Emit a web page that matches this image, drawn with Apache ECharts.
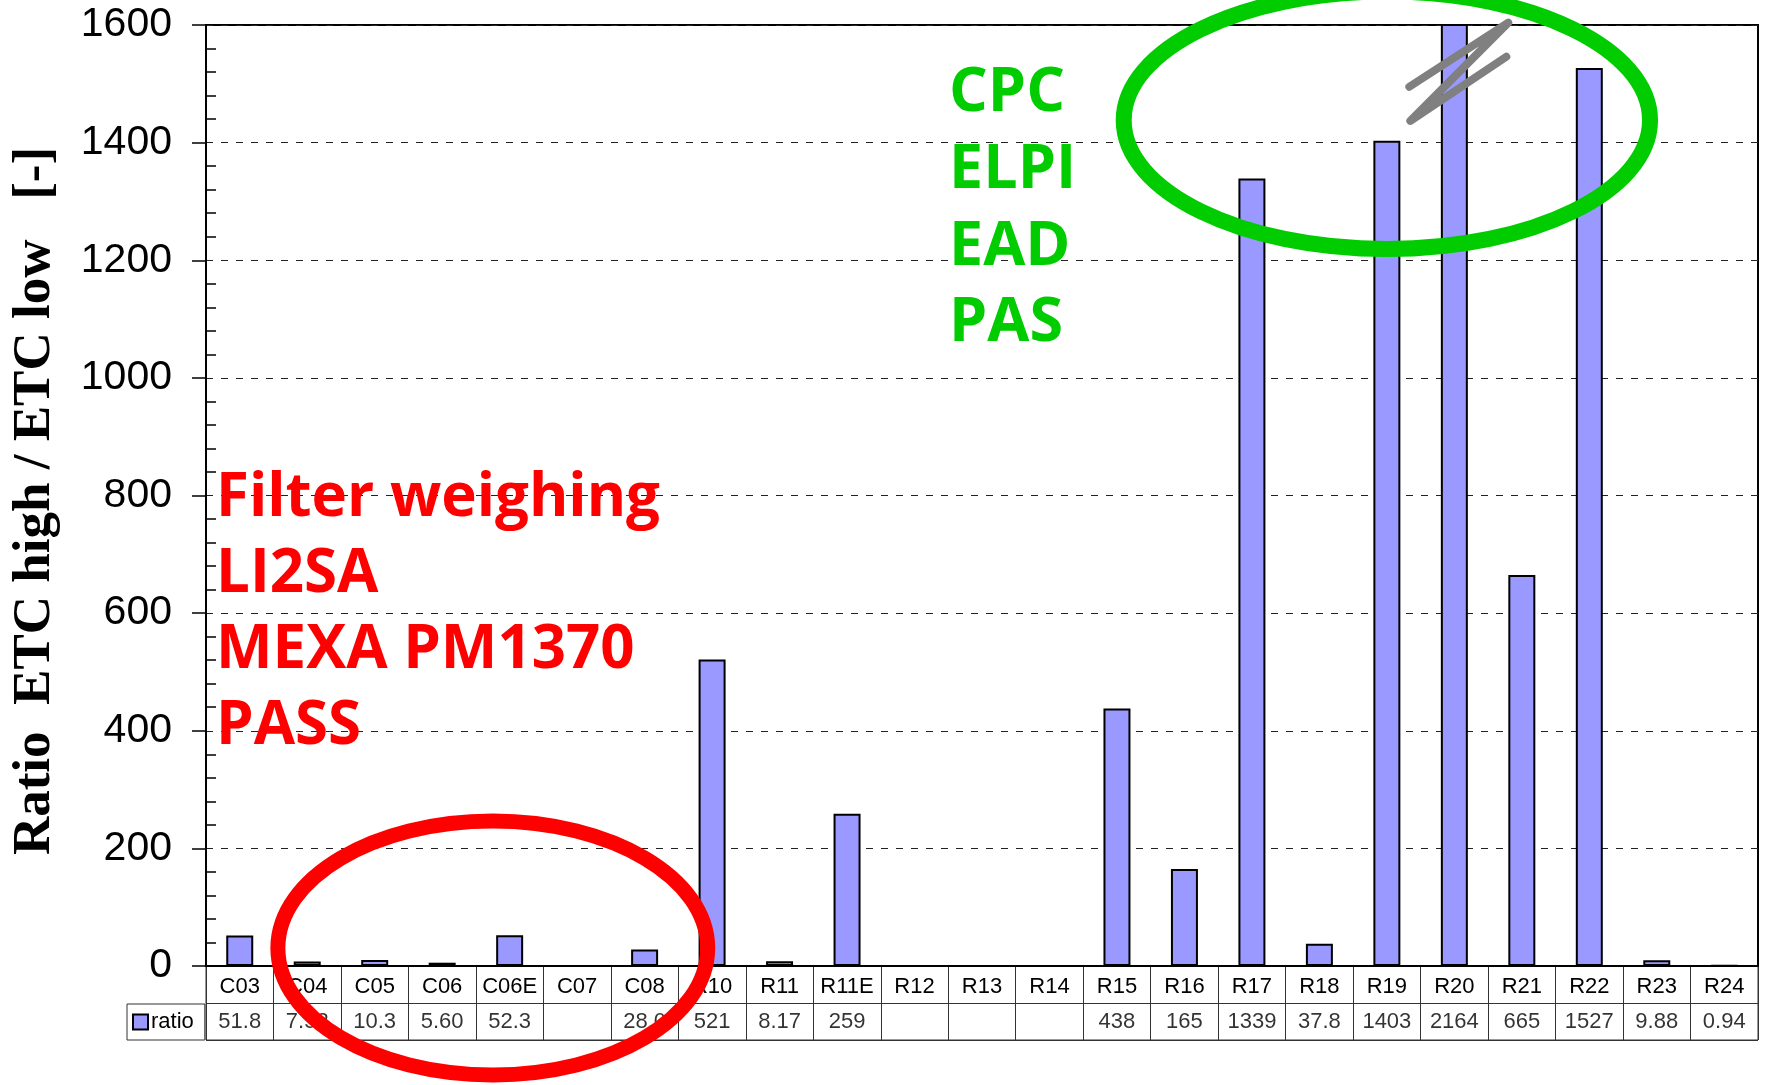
<!DOCTYPE html>
<html>
<head>
<meta charset="utf-8">
<script src="https://cdn.jsdelivr.net/npm/echarts@6/dist/echarts.min.js"></script>
<style>
  html, body { margin: 0; padding: 0; background: #ffffff; }
  #chart { width: 1766px; height: 1085px; }
</style>
</head>
<body>
<div id="chart"></div>
<script>
// values (blank cells -> null)
const categories = ["C03", "C04", "C05", "C06", "C06E", "C07", "C08", "R10", "R11", "R11E", "R12", "R13",
  "R14", "R15", "R16", "R17", "R18", "R19", "R20", "R21", "R22", "R23", "R24"];
const ratio = [51.8, 7.52, 10.3, 5.60, 52.3, null, 28.0, 521, 8.17, 259, null, null,
  null, 438, 165, 1339, 37.8, 1403, 2164, 665, 1527, 9.88, 0.94];
const tableRows = ["ratio", "name"];
const yMin = 0;
const yMax = 1600;
const yStep = 200;
const yTitle = "Ratio  ETC high / ETC low   [-]";
const redNotes = ["Filter weighing", "LI2SA", "MEXA PM1370", "PASS"];
const greenNotes = ["CPC", "ELPI", "EAD", "PAS"];

const SANS = '"Liberation Sans", Arial, sans-serif';
const NOTE_FONT = '"Open Sans", "Noto Sans", sans-serif';

function fmt(v) {
  if (v == null) return "";
  if (v >= 100) return String(Math.round(v));
  if (v < 1) return v.toFixed(2);
  return v.toPrecision(3);
}

const chart = echarts.init(document.getElementById("chart"));

chart.setOption({
  animation: false,
  backgroundColor: "#ffffff",
  legend: {
    left: 127,
    top: 1004,
    orient: "horizontal",
    padding: [7, 11, 7, 5],
    borderColor: "#333",
    borderWidth: 1,
    itemWidth: 15,
    itemHeight: 15,
    icon: "rect",
    textStyle: { color: "#000", fontSize: 22, fontFamily: SANS, padding: [0, 0, 0, -2] },
    selectedMode: false,
    data: ["ratio"],
  },
  grid: [
    { left: 206, right: 8, top: 25, bottom: 119, show: true, borderColor: "#000", borderWidth: 2 },
    { left: 206, right: 8, top: 966, bottom: 45, show: true, borderColor: "#333", borderWidth: 1 },
  ],
  xAxis: [
    {
      type: "category",
      data: categories,
      boundaryGap: true,
      axisLine: { lineStyle: { color: "#000", width: 2 } },
      axisTick: { show: false },
      axisLabel: { interval: 0, margin: 10, color: "#000", fontSize: 22, fontFamily: SANS },
      splitLine: { show: false },
    },
    {
      type: "category",
      gridIndex: 1,
      data: categories,
      boundaryGap: true,
      axisLine: { show: false },
      axisTick: { show: false },
      axisLabel: { show: false },
      splitLine: { show: true, interval: 0, lineStyle: { color: "#333", width: 1 } },
    },
  ],
  yAxis: [
    {
      type: "value",
      min: yMin,
      max: yMax,
      interval: yStep,
      axisLine: { show: true, lineStyle: { color: "#000", width: 2 } },
      axisTick: { show: true, inside: false, length: 14, lineStyle: { color: "#000", width: 1.5 } },
      minorTick: { show: true, splitNumber: 5, length: -10, lineStyle: { color: "#000", width: 1.5 } },
      axisLabel: { margin: 34, color: "#000", fontSize: 41, fontFamily: SANS, formatter: (v) => String(v) },
      splitLine: { show: true, lineStyle: { color: "#222", width: 1, type: [7, 8] } },
    },
    {
      type: "category",
      gridIndex: 1,
      data: tableRows,
      axisLine: { show: false },
      axisTick: { show: false },
      axisLabel: { show: false },
      splitLine: { show: true, interval: 0, lineStyle: { color: "#333", width: 1 } },
    },
  ],
  series: [
    {
      name: "ratio",
      type: "bar",
      data: ratio,
      barWidth: "40%",
      clip: true,
      itemStyle: { color: "#9999ff", borderColor: "#000", borderWidth: 2 },
    },
    {
      name: "table",
      type: "scatter",
      xAxisIndex: 1,
      yAxisIndex: 1,
      silent: true,
      symbol: "rect",
      symbolSize: 1,
      itemStyle: { color: "transparent" },
      data: ratio.map((v, i) => [i, "ratio", v]),
      label: {
        show: true,
        position: "inside",
        color: "#000",
        fontSize: 22,
        fontFamily: SANS,
        formatter: (p) => fmt(p.value[2]),
      },
    },
  ],
});

// annotations, anchored through the chart's own scales
// (category positions are rounded by convertToPixel, so fractions are added per band)
const band = chart.convertToPixel({ gridIndex: 0 }, [1, 0])[0] - chart.convertToPixel({ gridIndex: 0 }, [0, 0])[0];
function px(x, y) {
  const i = Math.floor(x);
  const p = chart.convertToPixel({ gridIndex: 0 }, [i, y]);
  return [p[0] + (x - i) * band, p[1]];
}

function ellipse(cx, cy, ex, ey, color, width) {
  const c = px(cx, cy);
  const e = px(cx + ex, cy + ey);
  return {
    type: "ellipse",
    z: 100,
    silent: true,
    shape: { cx: c[0], cy: c[1], rx: Math.abs(e[0] - c[0]), ry: Math.abs(c[1] - e[1]) },
    style: { fill: null, stroke: color, lineWidth: width },
  };
}

const breakPts = [[18 - 0.667, 1495], [18 + 0.8, 1604], [18 - 0.652, 1437], [18 + 0.77, 1546]].map((p) => px(p[0], p[1]));

const graphics = [
  {
    type: "text",
    x: 35,
    y: 501,
    rotation: Math.PI / 2,
    silent: true,
    style: {
      text: yTitle,
      fill: "#000",
      fontSize: 53,
      fontWeight: "bold",
      fontFamily: '"Liberation Serif", "Times New Roman", serif',
      align: "center",
      verticalAlign: "middle",
    },
  },
  {
    type: "polyline",
    z: 101,
    silent: true,
    shape: { points: breakPts },
    style: { stroke: "#808080", lineWidth: 8, fill: null, lineCap: "round", lineJoin: "round" },
  },
  ellipse(17, 1438, 3.9, 219, "#00cc00", 16),
  ellipse(3.75, 30.6, 3.185, 216, "#ff0000", 15),
];

redNotes.forEach((t, i) => {
  graphics.push({
    type: "text", z: 102, x: 216, y: 499 + i * 76, silent: true,
    style: { text: t, fill: "#ff0000", fontSize: 60, fontWeight: "bold", fontFamily: NOTE_FONT, verticalAlign: "middle" },
  });
});
greenNotes.forEach((t, i) => {
  graphics.push({
    type: "text", z: 102, x: 949, y: 94 + i * 76.7, silent: true,
    style: { text: t, fill: "#00cc00", fontSize: 61, fontWeight: "bold", fontFamily: NOTE_FONT, verticalAlign: "middle" },
  });
});

chart.setOption({ graphic: graphics });
</script>
</body>
</html>
